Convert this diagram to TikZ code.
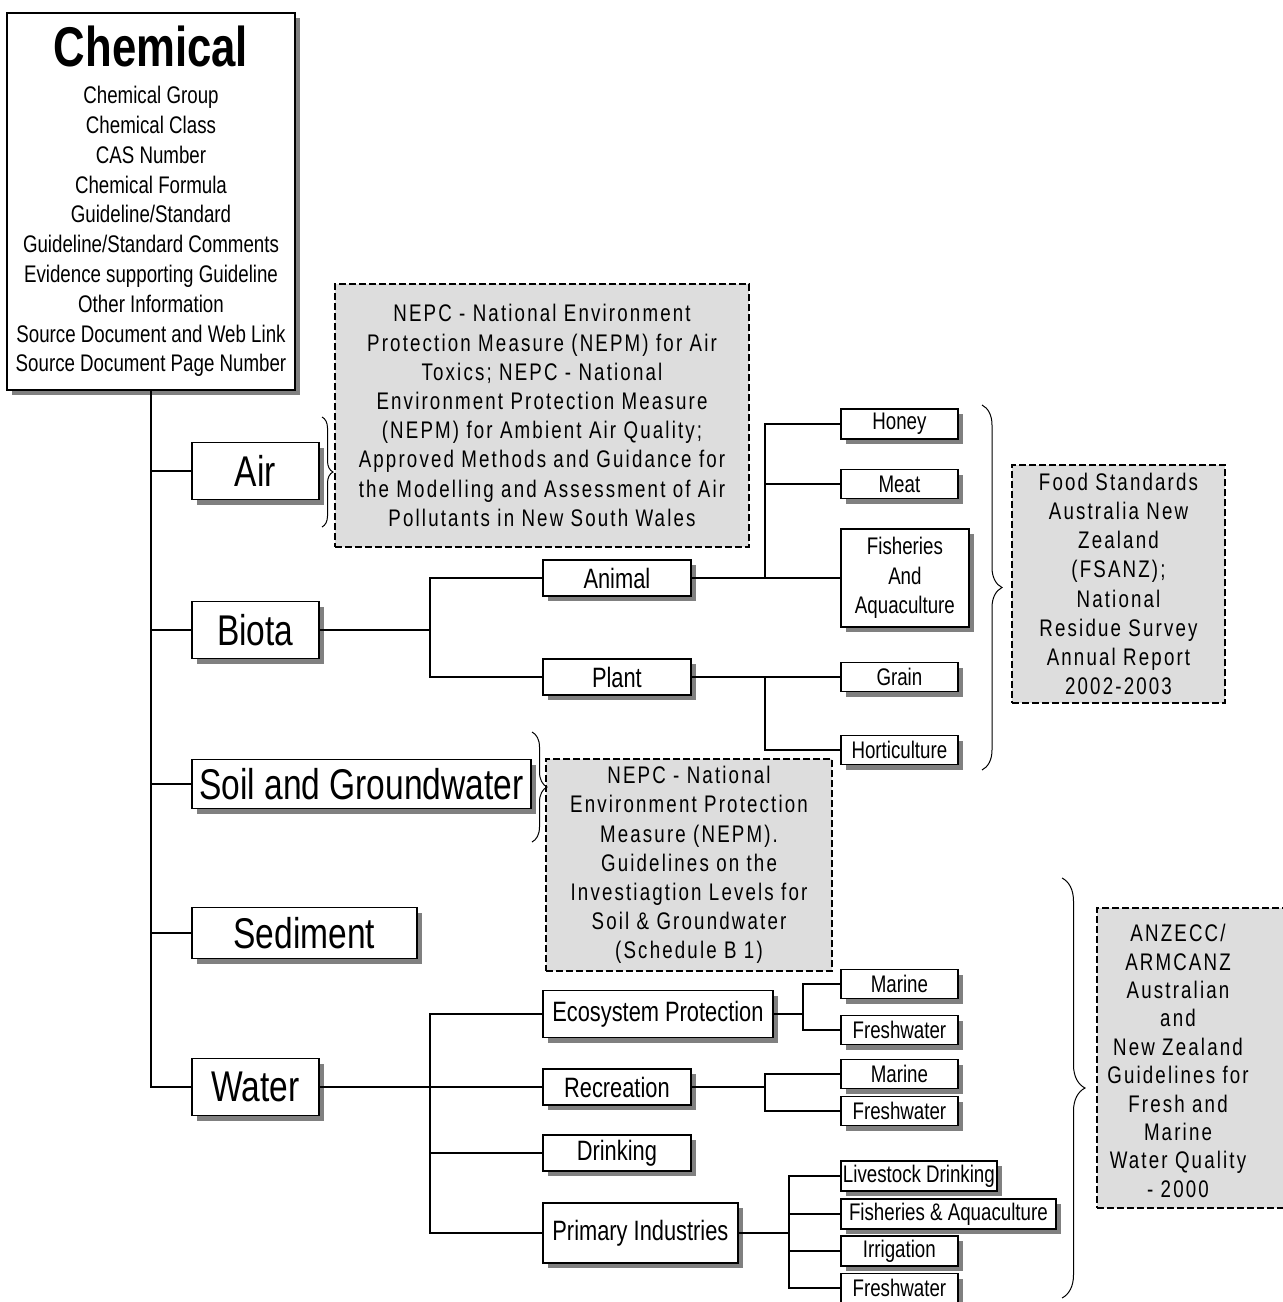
\documentclass[tikz,border=0pt]{standalone}
\usepackage{fontspec}
\setmainfont[FakeStretch=0.78]{Liberation Sans}
\newfontfamily\notefont[FakeStretch=0.78,LetterSpace=9]{Liberation Sans}
\usepackage{tikz}
\usetikzlibrary{shadows}
\usetikzlibrary{decorations.pathreplacing}
\definecolor{NoteGray}{HTML}{DDDDDD}
\definecolor{ShadowGray}{HTML}{808080}

\tikzset{
  box/.style={draw, line width=.9pt, fill=white, inner sep=2pt,
    drop shadow={shadow xshift=2.5pt, shadow yshift=-2.5pt, fill=ShadowGray, opacity=1}},
  topbox/.style={box, anchor=west, font=\fontsize{21.5}{24}\selectfont},
  midbox/.style={box, anchor=west, font=\fontsize{14}{16}\selectfont},
  leafbox/.style={box, anchor=west, inner xsep=1pt, minimum width=58.5pt,
    minimum height=14.5pt, font=\fontsize{12}{14.75}\selectfont},
  notebox/.style={draw, fill=NoteGray, line width=1pt, dash pattern=on 3.5pt off 1.5pt},
  notetext/.style={align=center, inner sep=2pt, font=\notefont\fontsize{12}{14.6}\selectfont},
  link/.style={line width=.7pt},
  trunk/.style={line width=1.4pt},
  curly/.style={decorate, decoration={brace, amplitude=#1}, line width=.5pt}
}

\begin{document}
\begin{tikzpicture}[x=0.5pt, y=-0.5pt]
\useasboundingbox (0,0) rectangle (1283,1302);

  % chemical record
\node[box, minimum width=144pt, minimum height=188.5pt, align=center,
  font=\fontsize{12}{14.9}\selectfont] (chem) at (151,201.5)
  {{\fontsize{28}{30}\selectfont\bfseries Chemical}\\[3.6pt]
   Chemical Group\\ Chemical Class\\ CAS Number\\ Chemical Formula\\
   Guideline/Standard\\ Guideline/Standard Comments\\
   Evidence supporting Guideline\\ Other Information\\
   Source Document and Web Link\\ Source Document Page Number};

  % media
\node[topbox, minimum width=63.5pt, minimum height=28.5pt] (air) at (191,471) {Air};
\node[topbox, minimum width=63.5pt, minimum height=28.5pt] (biota) at (191,630) {Biota};
\node[topbox, minimum width=169.5pt, minimum height=24.5pt] (soil) at (191,784) {Soil and Groundwater};
\node[topbox, minimum width=112.5pt, minimum height=25.5pt] (sediment) at (191,933) {Sediment};
\node[topbox, minimum width=63.5pt, minimum height=28.5pt] (water) at (191,1087) {Water};

\foreach \medium in {air,biota,soil,sediment,water}
  \draw[link] (chem.south) |- (\medium.west);

  % biota
\node[midbox, minimum width=74pt, minimum height=18pt] (animal) at (542,578) {Animal};
\node[midbox, minimum width=74pt, minimum height=18pt] (plant) at (542,677) {Plant};
\node[leafbox] (honey) at (840,424) {Honey};
\node[leafbox] (meat) at (840,484) {Meat};
\node[leafbox, minimum width=64pt, minimum height=49pt, align=center] (fishery) at (840,578)
  {Fisheries\\ And\\ Aquaculture};
\node[leafbox] (grain) at (840,677) {Grain};
\node[leafbox] (horti) at (840,750) {Horticulture};

\coordinate (bj) at (430,630);
\coordinate (aj) at (765,578);
\coordinate (pj) at (765,677);
\draw[trunk] (biota.east) -- (bj);
\draw[link] (bj) |- (animal.west);
\draw[link] (bj) |- (plant.west);
\draw[trunk] (animal.east) -- (aj);
\foreach \leaf in {honey,meat,fishery}
  \draw[link] (aj) |- (\leaf.west);
\draw[trunk] (plant.east) -- (pj);
\foreach \leaf in {grain,horti}
  \draw[link] (pj) |- (\leaf.west);

  % water
\node[midbox, minimum width=115pt, minimum height=23.5pt] (ecosys) at (542,1014) {Ecosystem Protection};
\node[midbox, minimum width=74pt, minimum height=18pt] (recreation) at (542,1087) {Recreation};
\node[midbox, minimum width=74pt, minimum height=18pt] (drinking) at (542,1153) {Drinking};
\node[midbox, minimum width=97.5pt, minimum height=30pt] (primary) at (542,1233) {Primary Industries};
\node[leafbox] (ecomarine) at (840,984) {Marine};
\node[leafbox] (ecofresh) at (840,1030) {Freshwater};
\node[leafbox] (recmarine) at (840,1074) {Marine};
\node[leafbox] (recfresh) at (840,1111) {Freshwater};
\node[leafbox, minimum width=78pt] (livestock) at (840,1176) {Livestock Drinking};
\node[leafbox, minimum width=107.5pt] (aquacult) at (840,1214) {Fisheries \& Aquaculture};
\node[leafbox] (irrigation) at (840,1251) {Irrigation};
\node[leafbox] (primfresh) at (840,1288) {Freshwater};

\coordinate (wj) at (430,1087);
\coordinate (ej) at (803,1014);
\coordinate (rj) at (765,1087);
\coordinate (ij) at (789,1233);
\draw[trunk] (water.east) -- (wj);
\foreach \use in {ecosys,recreation,drinking,primary}
  \draw[link] (wj) |- (\use.west);
\draw[trunk] (ecosys.east) -- (ej);
\foreach \leaf in {ecomarine,ecofresh}
  \draw[link] (ej) |- (\leaf.west);
\draw[trunk] (recreation.east) -- (rj);
\foreach \leaf in {recmarine,recfresh}
  \draw[link] (rj) |- (\leaf.west);
\draw[trunk] (primary.east) -- (ij);
\foreach \leaf in {livestock,aquacult,irrigation,primfresh}
  \draw[link] (ij) |- (\leaf.west);

  % source documents
\node[notebox, notetext, minimum width=207pt, minimum height=131.5pt] (airnote) at (542,415.5)
  {NEPC - National Environment\\ Protection Measure (NEPM) for Air\\
   Toxics; NEPC - National\\ Environment Protection Measure\\
   (NEPM) for Ambient Air Quality;\\ Approved Methods and Guidance for\\
   the Modelling and Assessment of Air\\ Pollutants in New South Wales};
\node[notebox, notetext, minimum width=106.5pt, minimum height=119pt] (foodnote) at (1118.5,584)
  {Food Standards\\ Australia New\\ Zealand\\ (FSANZ);\\ National\\
   Residue Survey\\ Annual Report\\ 2002-2003};
\node[notebox, notetext, minimum width=143pt, minimum height=106pt] (soilnote) at (689,865)
  {NEPC - National\\ Environment Protection\\ Measure (NEPM).\\ Guidelines on the\\
   Investiagtion Levels for\\ Soil \& Groundwater\\ (Schedule B 1)};
\node[notebox, minimum width=103pt, minimum height=150pt] (waternote) at (1200,1058) {};
\node[notetext, font=\notefont\fontsize{12}{14.2}\selectfont] (watertext) at (1178,1061)
  {ANZECC/\\ ARMCANZ\\ Australian\\ and\\ New Zealand\\ Guidelines for\\
   Fresh and\\ Marine\\ Water Quality\\ - 2000};

  % braces
\draw[curly=5.5pt] (322,417) -- (322,527);
\draw[curly=10pt] (982,405) -- (982,770);
\draw[curly=7.5pt] (532,732) -- (532,842);
\draw[curly=11.5pt] (1062,878) -- (1062,1298);

\end{tikzpicture}
\end{document}
